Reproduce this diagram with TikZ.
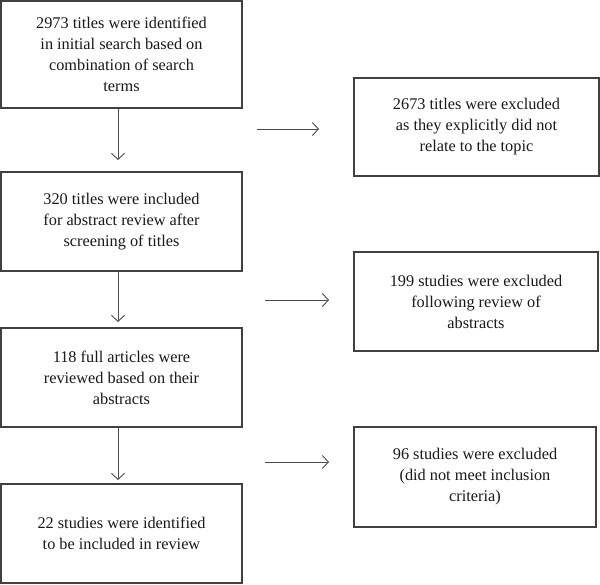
\documentclass[tikz,border=0pt]{standalone}
\usepackage{fontspec}
\setmainfont{Liberation Serif}
\usetikzlibrary{arrows.meta}
\begin{document}
\begin{tikzpicture}[x=1pt,y=-1pt,
  boxstyle/.style={draw=black!75, line width=1.1pt, fill=white, inner sep=0pt,
    align=center, font=\fontsize{16.3}{21}\selectfont, text=black!90},
  arr/.style={draw=black!70, line width=0.9pt, -{Straight Barb[length=6pt,width=13pt,line width=0.9pt]}}]
\useasboundingbox (0,0) rectangle (600,584);
% left column
\node[boxstyle, minimum width=241pt, minimum height=107pt] (l1) at (121.5,54.5)
  {2973 titles were identified\\in initial search based on\\combination of search\\terms};
\node[boxstyle, minimum width=241pt, minimum height=99pt] (l2) at (121.5,221.5)
  {320 titles were included\\for abstract review after\\screening of titles};
\node[boxstyle, minimum width=241pt, minimum height=99pt] (l3) at (121.5,377.5)
  {118 full articles were\\reviewed based on their\\abstracts};
\node[boxstyle, minimum width=241pt, minimum height=99pt] (l4) at (121.5,533.5)
  {22 studies were identified\\to be included in review};
% right column
\node[boxstyle, minimum width=245pt, minimum height=98pt] (r1) at (476.5,127)
  {2673 titles were excluded\\as they explicitly did not\\relate to the topic};
\node[boxstyle, minimum width=244pt, minimum height=99pt] (r2) at (476,301.5)
  {199 studies were excluded\\following review of\\abstracts};
\node[boxstyle, minimum width=242pt, minimum height=100pt] (r3) at (475,477)
  {96 studies were excluded\\(did not meet inclusion\\criteria)};
% arrow end points
\coordinate (v1e) at (118,160);
\coordinate (v2e) at (118,322);
\coordinate (v3e) at (118,480);
\coordinate (h1s) at (257,129);
\coordinate (h1e) at (319,129);
\coordinate (h2s) at (265,300);
\coordinate (h2e) at (329,300);
\coordinate (h3s) at (265,462);
\coordinate (h3e) at (329,462);
\draw[arr] (l1.south -| v1e) -- (v1e);
\draw[arr] (l2.south -| v2e) -- (v2e);
\draw[arr] (l3.south -| v3e) -- (v3e);
\draw[arr] (h1s) -- (h1e);
\draw[arr] (h2s) -- (h2e);
\draw[arr] (h3s) -- (h3e);
\end{tikzpicture}
\end{document}
